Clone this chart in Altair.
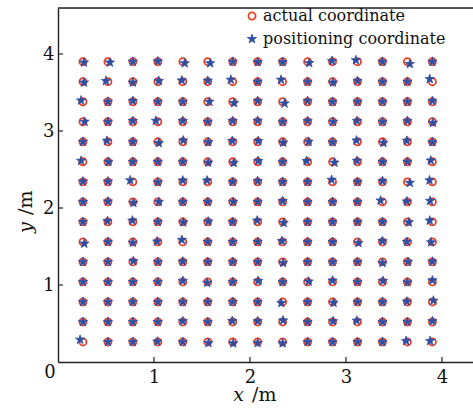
import altair as alt
import pandas as pd

# Grid of reference points (m)
col_x = [0.26, 0.52, 0.78, 1.04, 1.30, 1.56, 1.82, 2.08, 2.34, 2.60, 2.86, 3.12, 3.38, 3.64, 3.90]
row_y = [3.90, 3.64, 3.38, 3.12, 2.86, 2.60, 2.34, 2.08, 1.82, 1.56, 1.30, 1.04, 0.78, 0.52, 0.26]

# Positioning error per grid point (cm), rows follow row_y, columns follow col_x
dx_cm = [
    [1, 2, 0, 0, 2, 2.5, 0, 0, 0, 1.7, -0.5, -1.7, 0, 2.5, 0],
    [1, -2, 0, 1, -1, 0, -2, 0, -1.7, 0, 0.5, 0, 0, 0, -2.8],
    [-2, 0, 0, 0, 0, 1.7, 1.4, 0, 2, 0, 0, 0, 0, 0, 0],
    [1.7, 0, 0, -2, 0, 0, 0, 0, 0, 0, 0.5, -0.5, 0, 0, 0.5],
    [0, -1, 0, 1, 0.5, 0.5, -0.5, 0.5, 0.5, 1, 0, -1, 1, -0.5, 0],
    [-2, 0.5, 0, 0, 0, 0.5, 1, 0.5, 0, -1, 2, -0.5, 0, 0, -1.7],
    [0, 0, -2.8, 0, 0, -0.7, 0, 0, 0, 0, -1, 0, 0, 2.5, -3],
    [0, 0, 0.5, 1, 0, 0, 0.5, 0, 0, 0, 0, 0, -2, -0.5, -2.4],
    [0, -0.5, -0.5, 0, 0.5, 0.5, 0, -0.5, 1, 0, 0, 0, 0, 1.4, -2.8],
    [1.4, 0, 0, -0.7, -1, 0, 0, 0, -0.7, 0, 0, 1, 0, -0.5, -1.4],
    [0, 0, 0.5, 0, 0, 0, 0, 0, 0.5, 0, 0, 0, 0, 0.5, 0],
    [0, 0, 0, 0, 0, -0.5, 0, 0.5, 0, 1, 0, 0, 0.5, 0, 0],
    [0, 0, 0, 0, 0, 0, 0, 0, -1.4, 0, 1, 0, 0, -0.5, 1],
    [0, 0, 0, 0, 0, 0, -0.5, 0, 0.5, 0, 0.5, -0.7, 0, 0, 0],
    [-3, 0, 0, -0.5, 0, 0.7, 0.5, 0, 0, 0, 0, 0, 0, -1.4, -2.4],
]
dy_cm = [
    [-1, -1, 0, 0.5, -2, -2, 0, -0.5, -0.5, -1.7, 1, 2, 0, -3, 0],
    [-1, 1, -1, 1, 1.7, 1.3, 2.6, 0, 2.6, 0, -1, 1, 0, 0, 3.5],
    [1.7, 0, 1, 0, 0, 0, -1.7, 1, -2.2, 1, 0, 0, 0, 0, 1],
    [0, 0, 1, 1.3, 1, 0, 1, 1.3, 0, 1, 0, 1, 0, 1, -1.3],
    [0, 1.3, 0, -1.7, 1.7, -0.5, 1, 1, -1, 0, -0.5, 1.7, -1.3, 1.3, -0.5],
    [1.3, 0, 0, 0, 0, -1, -1.3, 1, 0, 1, -1, 1.3, 0, 0, 1.7],
    [0.5, 0.5, 2, -0.5, 1.7, 1.7, 0, 1, 0, 0, 2.6, 0, 1, -1.3, 2],
    [0, 0.5, -1.3, 0, 0, 0, 0, 0, 1, 0, 0, 0, 1.7, 0.5, 1.3],
    [0, 1, 1.7, 0, -0.5, 0.5, 0, 1.7, -1.3, 0, 0, 0, 0, -0.5, 1.7],
    [-2.2, 0, -1, 0.5, 2.6, 0, 0, 0, 1, 0, 0, -1.3, 1, 0, -0.5],
    [0, 0, 1, 0, 0.5, 0, 0, 0, -1.3, 0, 0, 0, -1.3, 0, 0.5],
    [0, 0, 0, 0, 1.3, -1, 0, 1.3, 0, 0.5, 1.7, 0, 1.3, -0.5, 2],
    [0, 0, 0, 0, 0, 0, 0, 0, -1.3, 0, -1, 0, 0, 0.5, 1.7],
    [0, 0, 0, 0, 1, 0, 1.3, 1, 2, 0, 1, 1.7, 0, 0, 1],
    [3, 0, 0, 0.5, 0, -1.3, -1.7, -1.3, -1.7, 0, 0, 0, 0, 1.3, 1.3],
]

series_names = ["actual coordinate", "positioning coordinate"]
tick_values = [1, 2, 3, 4]

RED = "#e5412b"
BLUE = "#2c4ea3"
FONT = "DejaVu Serif"
STAR = ("M0,-1L0.2245,-0.309L0.951,-0.309L0.3633,0.118L0.5878,0.809L0,0.382"
        "L-0.5878,0.809L-0.3633,0.118L-0.951,-0.309L-0.2245,-0.309Z")

W, H = 415, 354

rows = []
for i, y in enumerate(row_y):
    for j, x in enumerate(col_x):
        rows.append({"x": x, "y": y, "series": series_names[0]})
for i, y in enumerate(row_y):
    for j, x in enumerate(col_x):
        rows.append({"x": x + dx_cm[i][j] / 100, "y": y + dy_cm[i][j] / 100,
                     "series": series_names[1]})
df = pd.DataFrame(rows)

xscale = alt.Scale(domain=[0, W / 96], nice=False, zero=False)
yscale = alt.Scale(domain=[0, H / 77], nice=False, zero=False)

axis_common = dict(values=tick_values, format="d", ticks=False, grid=False, title=None,
                   domainColor="#222222", domainWidth=1.4,
                   labelFont=FONT, labelFontSize=18, labelColor="#111111")

legend = alt.Legend(title=None, orient="none", legendX=186, legendY=0,
                    labelFont=FONT, labelFontSize=16, labelColor="#111111",
                    labelLimit=400, labelOffset=3, rowPadding=7, symbolSize=45,
                    symbolStrokeWidth=1.6)

points = alt.Chart(df).mark_point(opacity=1, filled=False).encode(
    x=alt.X("x:Q", scale=xscale, axis=alt.Axis(labelPadding=6, **axis_common)),
    y=alt.Y("y:Q", scale=yscale, axis=alt.Axis(labelPadding=4, **axis_common)),
    color=alt.Color("series:N", scale=alt.Scale(domain=series_names, range=[RED, BLUE]), legend=legend),
    shape=alt.Shape("series:N", scale=alt.Scale(domain=series_names, range=["circle", STAR]), legend=legend),
    fill=alt.Fill("series:N", scale=alt.Scale(domain=series_names, range=["transparent", BLUE]), legend=None),
    size=alt.Size("series:N", scale=alt.Scale(domain=series_names, range=[50, 95]), legend=None),
    strokeWidth=alt.StrokeWidth("series:N", scale=alt.Scale(domain=series_names, range=[1.8, 0.8]), legend=None),
)

ticks_df = pd.DataFrame({"t": tick_values})
xticks = alt.Chart(ticks_df).mark_rule(color="#222222", strokeWidth=1.2).encode(
    x=alt.X("t:Q", scale=xscale), y=alt.value(H), y2=alt.value(H - 5))
yticks = alt.Chart(ticks_df).mark_rule(color="#222222", strokeWidth=1.2).encode(
    y=alt.Y("t:Q", scale=yscale), x=alt.value(0), x2=alt.value(5))

top_border = alt.Chart(ticks_df.head(1)).mark_rule(color="#222222", strokeWidth=1.4).encode(
    x=alt.value(0), x2=alt.value(W), y=alt.value(0))

origin = alt.Chart(ticks_df.head(1)).mark_text(
    text="0", font=FONT, fontSize=18, color="#111111", dx=-8, dy=11,
    baseline="middle", align="center").encode(x=alt.datum(0), y=alt.datum(0))

title_style = dict(font=FONT, fontSize=19, color="#111111", baseline="alphabetic")
xt1 = alt.Chart(ticks_df.head(1)).mark_text(text="x", fontStyle="italic", align="right", **title_style).encode(
    x=alt.value(186), y=alt.value(393))
xt2 = alt.Chart(ticks_df.head(1)).mark_text(text="/m", align="left", **title_style).encode(
    x=alt.value(194), y=alt.value(393))
yt1 = alt.Chart(ticks_df.head(1)).mark_text(text="y", fontStyle="italic", align="left", angle=270, **title_style).encode(
    x=alt.value(-26), y=alt.value(225))
yt2 = alt.Chart(ticks_df.head(1)).mark_text(text="/m", align="left", angle=270, **title_style).encode(
    x=alt.value(-26), y=alt.value(207))

chart = alt.layer(points, xticks, yticks, top_border, origin, xt1, xt2, yt1, yt2).properties(
    width=W, height=H,
    autosize=alt.AutoSizeParams(type="none"),
    padding={"left": 58, "top": 8, "right": 0, "bottom": 46},
    background="white",
).configure_view(stroke=None).configure(font=FONT).configure_axis(
    labelFont=FONT, labelFontSize=18
).configure_legend(labelFont=FONT, labelFontSize=16, labelLimit=400)

chart.save("out.html", embed_options={"renderer": "svg", "actions": False})
